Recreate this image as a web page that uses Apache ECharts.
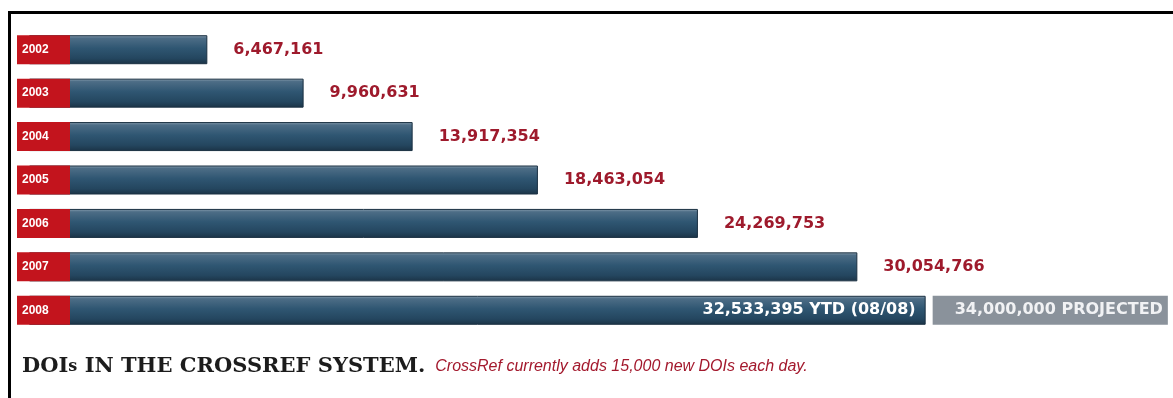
<!DOCTYPE html>
<html>
<head>
<meta charset="utf-8">
<script src="https://cdn.jsdelivr.net/npm/echarts@6/dist/echarts.min.js"></script>
<style>
  html, body { margin: 0; padding: 0; background: #ffffff; }
  #chart { width: 1173px; height: 398px; }
</style>
</head>
<body>
<div id="chart"></div>
<script>
// ---- data ----
const years = ['2002', '2003', '2004', '2005', '2006', '2007', '2008'];
const dois = [6467161, 9960631, 13917354, 18463054, 24269753, 30054766, 32533395];
const ytdSuffix = ' YTD (08/08)';
const projectedValue = 34000000;
const projectedSuffix = ' PROJECTED';
const captionTitle = 'DOIs IN THE CROSSREF SYSTEM.';
const captionNote = 'CrossRef currently adds 15,000 new DOIs each day.';

const fmt = v => v.toLocaleString('en-US');
const last = years.length - 1;

const barData = dois.map((v, i) => {
  if (i !== last) return v;
  return {
    value: v,
    label: {
      position: 'insideRight',
      distance: 10,
      color: '#ffffff',
      formatter: () => fmt(v) + ytdSuffix
    }
  };
});
const projData = dois.map((v, i) => (i === last ? v : null));

const chart = echarts.init(document.getElementById('chart'));
chart.setOption({
  backgroundColor: '#ffffff',
  animation: false,
  grid: { left: 17, right: 3, top: 28, bottom: 66 },
  xAxis: {
    type: 'value', min: -440000, max: 41400000, show: false
  },
  yAxis: {
    type: 'category', data: years, inverse: true, z: 10,
    axisLine: { show: false, onZero: false },
    axisTick: { show: false },
    splitLine: { show: false },
    axisLabel: {
      inside: true, margin: 0,
      color: '#ffffff', fontFamily: 'Liberation Sans', fontWeight: 'bold', fontSize: 12,
      backgroundColor: '#c3141d',
      padding: [8, 0, 8, 5], width: 48, height: 13
    }
  },
  series: [
    {
      type: 'bar', data: barData, barWidth: 29, z: 2,
      itemStyle: {
        color: new echarts.graphic.LinearGradient(0, 0, 0, 1, [
          { offset: 0, color: '#8ea3b3' },
          { offset: 0.1, color: '#4d6d86' },
          { offset: 0.45, color: '#2f5672' },
          { offset: 0.8, color: '#24465f' },
          { offset: 1, color: '#1b3346' }
        ]),
        borderColor: '#1a3042', borderWidth: 1
      },
      label: {
        show: true, position: 'right', distance: 26,
        color: '#9e1a2c', fontFamily: 'DejaVu Sans', fontWeight: 'bold', fontSize: 16,
        formatter: p => fmt(p.value)
      }
    },
    {
      type: 'bar', data: projData, barWidth: 29, barGap: '-100%', z: 3,
      itemStyle: { color: 'rgba(0,0,0,0)' },
      label: {
        show: true, position: 'right', distance: 7,
        color: '#f1f2f4', fontFamily: 'DejaVu Sans', fontWeight: 'bold', fontSize: 16,
        backgroundColor: '#8a929b',
        padding: [7, 5, 6, 22], height: 16,
        formatter: () => fmt(projectedValue) + projectedSuffix
      }
    }
  ],
  title: {
    left: 17, top: 349,
    text: '{a|' + captionTitle.replace('DOIs', 'DOI}{s|s}{a|') + '}  {b|' + captionNote + '}',
    textStyle: {
      rich: {
        a: { fontFamily: 'DejaVu Serif', fontWeight: 'bold', fontSize: 21, color: '#1c1c1c', lineHeight: 26 },
        s: { fontFamily: 'DejaVu Serif', fontWeight: 'bold', fontSize: 16, color: '#1c1c1c', lineHeight: 26 },
        b: { fontFamily: 'Liberation Sans', fontStyle: 'italic', fontWeight: 'normal', fontSize: 16, color: '#a3192d', lineHeight: 26 }
      }
    }
  },
  graphic: [
    { type: 'rect', shape: { x: 8, y: 11, width: 1165, height: 3 }, style: { fill: '#000000' } },
    { type: 'rect', shape: { x: 8, y: 11, width: 3, height: 387 }, style: { fill: '#000000' } }
  ]
});
</script>
</body>
</html>
